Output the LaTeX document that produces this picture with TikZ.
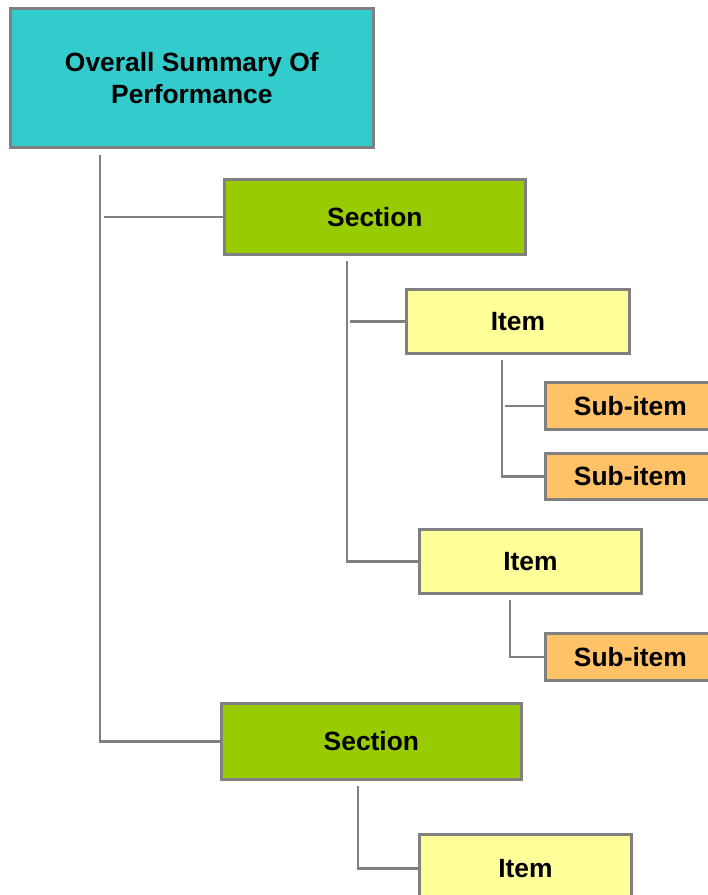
\documentclass[tikz,border=0pt]{standalone}
\usepackage{fontspec}
\setmainfont{Liberation Sans}
\usetikzlibrary{calc}
\definecolor{boxgray}{HTML}{808080}
\definecolor{linegray}{HTML}{808080}
\definecolor{topfill}{HTML}{33CCCC}
\definecolor{secfill}{HTML}{99CC00}
\definecolor{itemfill}{HTML}{FFFF99}
\definecolor{subfill}{HTML}{FFC266}
\begin{document}
\begin{tikzpicture}[x=1pt,y=-1pt,
  box/.style={draw=boxgray, line width=2.8pt, anchor=north west, inner sep=0pt,
    font=\fontsize{26.4}{32}\selectfont\bfseries, align=center},
  topbox/.style={box, fill=topfill, minimum width=363pt, minimum height=139pt},
  secbox/.style={box, fill=secfill, minimum width=301pt, minimum height=75pt},
  itembox/.style={box, fill=itemfill, minimum width=223pt, minimum height=64pt},
  subbox/.style={box, fill=subfill, minimum width=170pt, minimum height=47pt},
  conn/.style={draw=linegray, line width=2.6pt}]
\useasboundingbox (0,0) rectangle (708,895);
\begin{scope}
\clip (0,0) rectangle (708,895);

% boxes
\node[topbox]  (top)   at (9,7)     {Overall Summary Of\\Performance};
\node[secbox]  (sec1)  at (223,178) {Section};
\node[itembox] (item1) at (405,288) {Item};
\node[subbox]  (sub1)  at (544,381) {Sub-item};
\node[subbox, minimum height=46pt] (sub2) at (544,452) {Sub-item};
\node[itembox, minimum width=222pt] (item2) at (418,528) {Item};
\node[subbox]  (sub3)  at (544,632) {Sub-item};
\node[secbox, minimum width=300pt, minimum height=76pt] (sec2) at (220,702) {Section};
\node[itembox, minimum width=212pt, minimum height=68pt] (item3) at (418,833) {Item};

% branch points below each parent box
\coordinate (t0) at ($(top.south west)+(91,6)$);
\coordinate (s1) at ($(sec1.south west)+(124,5)$);
\coordinate (i1) at ($(item1.south west)+(97,5)$);
\coordinate (i2) at ($(item2.south west)+(92,5)$);
\coordinate (s2) at ($(sec2.south west)+(138,5)$);

% connectors
\draw[conn] (t0) |- (sec2.west);
\draw[conn] ($(t0 |- sec1.west)+(4,0)$) -- (sec1.west);
\draw[conn] (s1) |- (item2.west);
\draw[conn] ($(s1 |- item1.west)+(3,0)$) -- (item1.west);
\draw[conn] (i1) |- (sub2.west);
\draw[conn] ($(i1 |- sub1.west)+(3,0)$) -- (sub1.west);
\draw[conn] (i2) |- (sub3.west);
\draw[conn] (s2) |- (item3.west);
\end{scope}
\end{tikzpicture}
\end{document}
